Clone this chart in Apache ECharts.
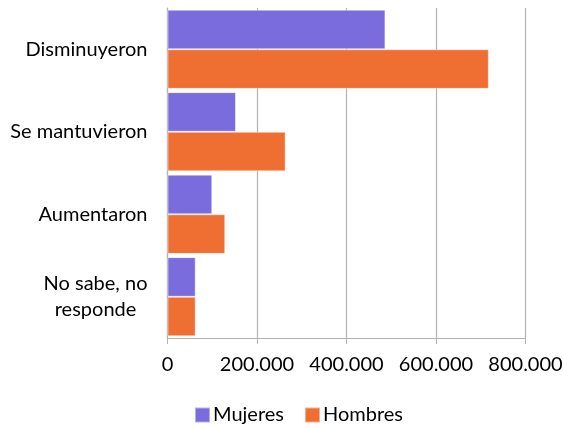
<!DOCTYPE html>
<html>
<head>
<meta charset="utf-8">
<script src="https://cdn.jsdelivr.net/npm/echarts@6/dist/echarts.min.js"></script>
<style>
  html, body { margin: 0; padding: 0; background: #fff; }
  #chart { width: 563px; height: 428px; }
</style>
</head>
<body>
<div id="chart"></div>
<script>
// Categories, top to bottom
const categories = ['Disminuyeron', 'Se mantuvieron', 'Aumentaron', 'No sabe, no\nresponde'];
// Values per group
const mujeres = [487000, 153000, 100000, 63000];
const hombres = [718000, 264000, 129000, 63000];
const seriesNames = ['Mujeres', 'Hombres'];

const FONT = 'Lato, "Open Sans", sans-serif';

function fmt(v) {
  return String(Math.round(v)).replace(/\B(?=(\d{3})+(?!\d))/g, '.');
}

// Each line of a category label is centred within its block
function catLabel(v) {
  return v.split('\n').map(function (s) { return '{c|' + s + '}'; }).join('\n');
}

const chart = echarts.init(document.getElementById('chart'), null, { renderer: 'canvas' });
chart.setOption({
  animation: false,
  backgroundColor: '#ffffff',
  grid: {
    left: 167.5, right: 37.5, top: 8, bottom: 90,
    containLabel: false,
    outerBoundsMode: 'none'
  },
  legend: {
    data: seriesNames,
    top: 400,
    left: 189,
    itemWidth: 15,
    itemHeight: 15,
    itemGap: 20,
    icon: 'rect',
    textStyle: { fontFamily: FONT, fontSize: 20, color: '#000', padding: [0, 0, 0, -2] }
  },
  xAxis: {
    type: 'value',
    min: 0,
    max: 800000,
    interval: 200000,
    axisLine: { show: true, lineStyle: { color: '#b3b3b3', width: 1 } },
    axisTick: { show: true, length: 6, lineStyle: { color: '#b3b3b3' } },
    splitLine: { show: true, lineStyle: { color: '#b3b3b3', width: 1.2 } },
    axisLabel: {
      formatter: fmt,
      fontFamily: FONT, fontSize: 20, color: '#000', margin: 17
    }
  },
  yAxis: {
    type: 'category',
    inverse: true,
    data: categories,
    axisLine: { show: true, lineStyle: { color: '#b3b3b3', width: 1.2 } },
    axisTick: { show: false },
    axisLabel: {
      formatter: catLabel,
      fontFamily: FONT, fontSize: 20, color: '#000', margin: 20,
      align: 'right',
      rich: {
        c: { fontFamily: FONT, fontSize: 20, color: '#000', align: 'center', lineHeight: 26 }
      }
    }
  },
  series: [
    {
      name: seriesNames[0],
      type: 'bar',
      data: mujeres,
      barGap: '0%',
      barCategoryGap: '4%',
      itemStyle: { color: '#7b6cde', borderColor: 'rgba(255,255,255,0.45)', borderWidth: 1 }
    },
    {
      name: seriesNames[1],
      type: 'bar',
      data: hombres,
      barGap: '0%',
      barCategoryGap: '4%',
      itemStyle: { color: '#ef6f33', borderColor: 'rgba(255,255,255,0.45)', borderWidth: 1 }
    }
  ]
});
</script>
</body>
</html>
